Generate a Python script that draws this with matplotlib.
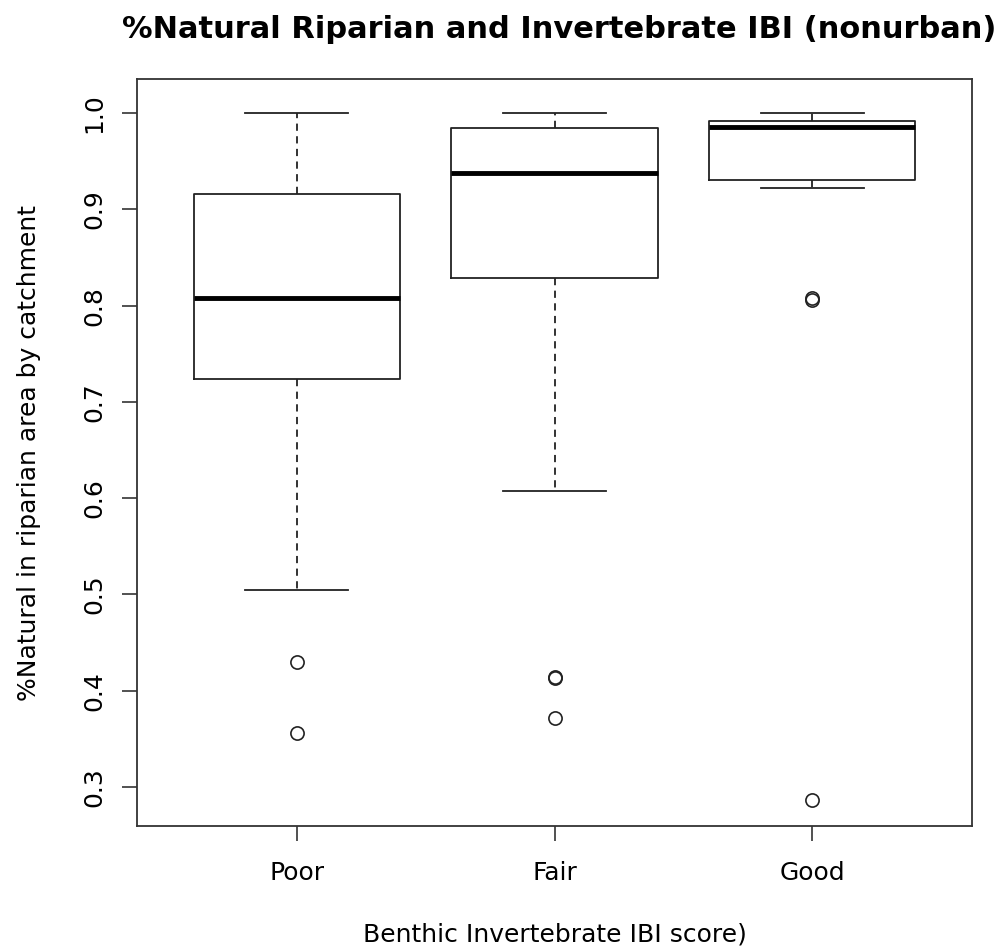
import matplotlib
matplotlib.use("Agg")
import matplotlib.pyplot as plt

# box statistics
groups = ["Poor", "Fair", "Good"]
medians = [0.808, 0.938, 0.985]
q1 = [0.724, 0.829, 0.930]
q3 = [0.916, 0.984, 0.992]
whis_lo = [0.505, 0.607, 0.922]
whis_hi = [1.000, 1.000, 1.000]
outliers = [
    [0.430, 0.356],
    [0.414, 0.413, 0.372],
    [0.808, 0.806, 0.287],
]

stats = []
for i, g in enumerate(groups):
    stats.append({
        "label": g,
        "med": medians[i],
        "q1": q1[i],
        "q3": q3[i],
        "whislo": whis_lo[i],
        "whishi": whis_hi[i],
        "fliers": outliers[i],
    })

fig = plt.figure(figsize=(10.07, 9.46), dpi=100)
ax = fig.add_axes([137 / 1007, 1 - 826 / 946, (972 - 137) / 1007, (826 - 79) / 946])

ax.bxp(
    stats,
    positions=[1, 2, 3],
    widths=0.8,
    boxprops=dict(color="#222222", linewidth=1.3),
    medianprops=dict(color="black", linewidth=3.5, solid_capstyle="butt"),
    whiskerprops=dict(color="#222222", linewidth=1.3, linestyle=(0, (4, 3))),
    capprops=dict(color="#222222", linewidth=1.3),
    capwidths=0.4,
    flierprops=dict(marker="o", markersize=9.5, markerfacecolor="none",
                    markeredgecolor="#222222", markeredgewidth=1.2, linestyle="none"),
)

ax.set_xlim(0.38, 3.62)
ax.set_ylim(0.2595, 1.0353)
ax.set_yticks([0.3, 0.4, 0.5, 0.6, 0.7, 0.8, 0.9, 1.0])
ax.set_yticklabels(["0.3", "0.4", "0.5", "0.6", "0.7", "0.8", "0.9", "1.0"],
                   rotation=90, va="center")
ax.set_xticks([1, 2, 3])
ax.set_xticklabels(groups)
ax.tick_params(axis="both", direction="out", length=11, width=1.2, labelsize=18,
               color="#333333")
ax.tick_params(axis="x", pad=14)
ax.tick_params(axis="y", pad=11)
for s in ax.spines.values():
    s.set_linewidth(1.3)
    s.set_color("#333333")

ax.set_ylabel("%Natural in riparian area by catchment", fontsize=18, labelpad=30)
ax.set_xlabel("Benthic Invertebrate IBI score)", fontsize=18, labelpad=27)
fig.text(0.555, 0.969, "%Natural Riparian and Invertebrate IBI (nonurban)",
         ha="center", va="center", fontsize=22, fontweight="bold")

fig.savefig("out.png", dpi=100)
